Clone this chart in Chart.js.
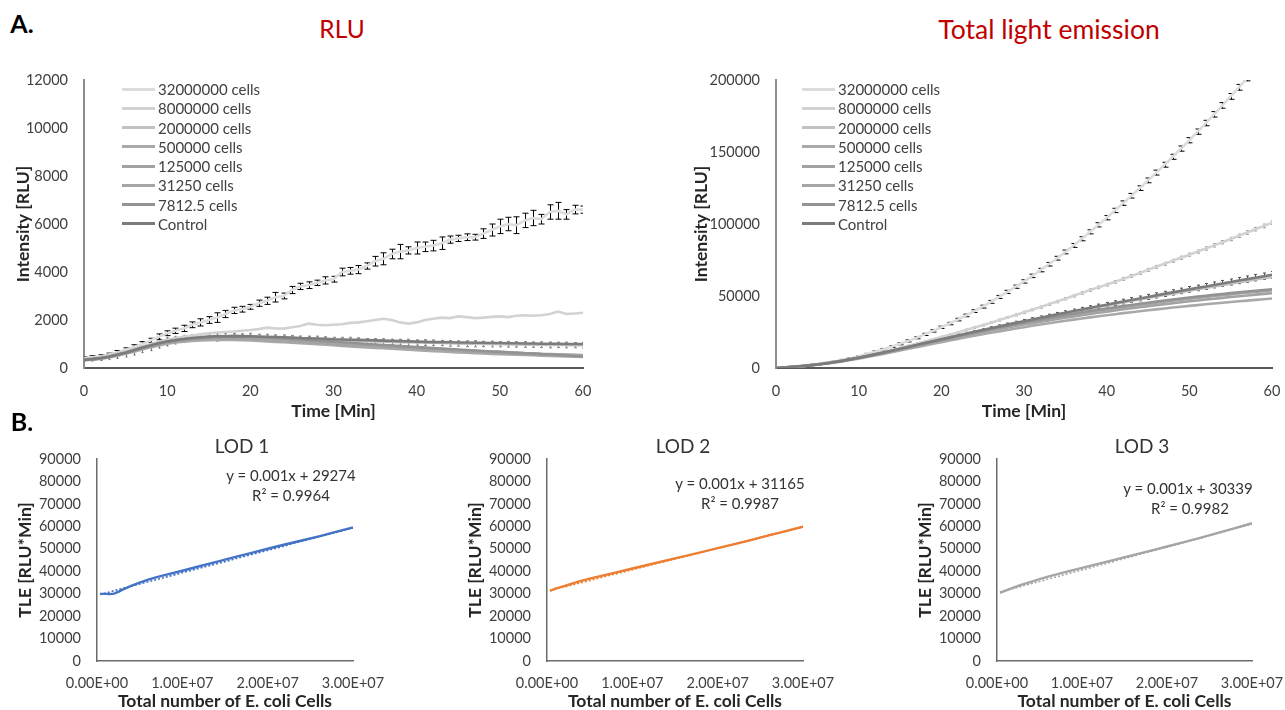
<!DOCTYPE html>
<html><head><meta charset="utf-8">
<script src="https://cdn.jsdelivr.net/npm/chart.js@4.4.1/dist/chart.umd.min.js"></script>
<style>
html,body{margin:0;padding:0;background:#fff;}
#root{position:relative;width:1285px;height:710px;overflow:hidden;font-family:Lato,'DejaVu Sans',sans-serif;}
.box{position:absolute;}
.txt{position:absolute;transform:translate(-50%,-50%);white-space:nowrap;line-height:1;}
.lrow{position:absolute;height:18px;display:flex;align-items:center;white-space:nowrap;font-size:15px;color:#404040;font-family:Lato,sans-serif;}
.lline{display:inline-block;width:33px;height:3px;margin-right:3px;}
</style></head>
<body><div id="root">
<canvas id="c1" class="box" width="620" height="362" style="left:0;top:60px"></canvas>
<canvas id="c2" class="box" width="605" height="362" style="left:680px;top:60px"></canvas>
<canvas id="c3" class="box" width="430" height="272" style="left:0;top:440px"></canvas>
<canvas id="c4" class="box" width="430" height="272" style="left:430px;top:440px"></canvas>
<canvas id="c5" class="box" width="425" height="272" style="left:860px;top:440px"></canvas>
<div id="legend1"></div><div id="legend2"></div>
<div class="txt" style="left:22px;top:23px;font-size:25px;font-weight:bold;color:#000">A.</div>
<div class="txt" style="left:22px;top:421px;font-size:25px;font-weight:bold;color:#000">B.</div>
<div class="txt" style="left:342px;top:29px;font-size:24.5px;color:#c00000">RLU</div>
<div class="txt" style="left:1049px;top:29px;font-size:26.5px;color:#c00000">Total light emission</div>
<div class="txt" style="left:242px;top:445px;font-size:19px;color:#333">LOD 1</div>
<div class="txt" style="left:683px;top:445px;font-size:19px;color:#333">LOD 2</div>
<div class="txt" style="left:1142px;top:445px;font-size:19px;color:#333">LOD 3</div>
<div class="txt" style="left:291px;top:475px;font-size:15px;color:#333">y = 0.001x + 29274</div>
<div class="txt" style="left:291px;top:495px;font-size:15px;color:#333">R² = 0.9964</div>
<div class="txt" style="left:740px;top:483px;font-size:15px;color:#333">y = 0.001x + 31165</div>
<div class="txt" style="left:740px;top:503px;font-size:15px;color:#333">R² = 0.9987</div>
<div class="txt" style="left:1188px;top:488px;font-size:15px;color:#333">y = 0.001x + 30339</div>
<div class="txt" style="left:1190px;top:508px;font-size:15px;color:#333">R² = 0.9982</div>
</div>
<script>
// ---------- DATA ----------
const seriesLabels = ['32000000 cells','8000000 cells','2000000 cells','500000 cells','125000 cells','31250 cells','7812.5 cells','Control'];
const minutes = [0,1,2,3,4,5,6,7,8,9,10,11,12,13,14,15,16,17,18,19,20,21,22,23,24,25,26,27,28,29,30,31,32,33,34,35,36,37,38,39,40,41,42,43,44,45,46,47,48,49,50,51,52,53,54,55,56,57,58,59,60];

const rlu32M = [400,450,480,560,650,760,880,1000,1150,1300,1450, 1550,1650,1800,1900,2000,2100,2250,2400,2450,2550, 2700,2800,2950,3000,3250,3400,3450,3550,3650,3700, 4000,4050,4100,4250,4450,4550,4750,4850,4900,5000, 5050,5100,5200,5350,5400,5450,5450,5600,5750,5900, 6000,5950,6150,6250,6200,6500,6550,6400,6600,6600];
const rlu8M = [380,420,470,540,620,700,800,900,1000,1100,1180, 1250,1300,1350,1400,1450,1480,1500,1520,1550,1580, 1620,1680,1650,1640,1700,1750,1850,1800,1780,1800, 1820,1880,1900,1950,2000,2050,2000,1900,1850,1900, 2000,2050,2100,2080,2150,2120,2080,2100,2130,2150, 2120,2180,2200,2180,2200,2250,2350,2250,2270,2300];
const rlu2M = [360,390,430,490,570,660,760,860,960,1050,1120, 1180,1220,1250,1280,1300,1240,1320,1310,1300,1320, 1290,1280,1260,1250,1240,1220,1210,1200,1180,1170, 1160,1150,1140,1120,1110,1100,1090,1080,1070,1060, 1060,1050,1040,1030,1020,1010,1010,1000,1000,990, 990,980,980,970,970,960,960,960,950,950];
const rlu500k = [320,350,380,440,510,590,680,770,860,940,1010, 1060,1100,1130,1150,1160,1170,1180,1170,1160,1150, 1130,1110,1090,1070,1050,1030,1010,990,970,950, 920,900,880,860,840,820,800,780,760,740, 720,700,690,670,650,640,620,610,590,580, 560,550,540,530,510,500,490,480,470,460];
const rlu125k = [330,360,400,460,540,630,730,830,920,1000,1070, 1120,1160,1190,1210,1230,1250,1240,1250,1230,1220, 1200,1190,1170,1150,1130,1100,1080,1060,1040,1010, 990,970,950,930,910,890,870,850,830,810, 790,780,760,740,720,700,690,670,650,640, 620,610,590,580,570,560,550,540,530,520];
const rlu31250 = [350,380,420,480,560,650,750,850,940,1020,1090, 1150,1190,1220,1250,1270,1280,1290,1280,1270,1260, 1250,1230,1210,1190,1170,1150,1120,1100,1080,1060, 1040,1010,990,970,950,930,910,890,870,850, 830,810,790,770,750,740,720,700,690,670, 650,640,620,610,590,580,570,560,550,540];
const rlu7812 = [340,370,410,470,550,640,740,840,930,1020,1100, 1160,1200,1230,1250,1270,1290,1300,1290,1300,1290, 1280,1270,1250,1230,1210,1190,1170,1140,1120,1100, 1070,1050,1030,1000,980,960,940,910,890,870, 850,830,810,790,770,750,730,710,690,670, 650,630,610,600,580,560,540,520,500,480];
const rluControl = [340,370,410,470,550,640,740,840,940,1030,1100, 1160,1210,1250,1280,1310,1330,1320,1340,1330,1320, 1310,1300,1290,1280,1270,1250,1240,1230,1220,1200, 1190,1180,1170,1160,1150,1140,1130,1120,1110,1100, 1090,1080,1080,1070,1060,1060,1050,1050,1040,1040, 1030,1030,1020,1020,1010,1010,1010,1000,1000,1000];

const errRlu32M = [60,60,70,60,80,80,90,100,90,120, 100,110,130,120,150,140,200,150,130,120, 100,130,150,200,120,150,130,140,110,150, 120,160,140,170,130,200,250,200,300,150, 250,200,220,260,150,130,140,120,200,250, 300,280,350,300,320,200,300,350,200,180, 150];
const errRlu2M = [20,30,40,50,60,70,80,80,90,100, 100,110,110,120,120,130,120,130,130,120, 130,120,130,120,130,120,110,120,130,120, 110,120,130,120,110,120,120,110,120,130, 110,120,120,110,120,110,120,130,110,120, 110,120,110,120,110,120,120,110,120,110, 120];
const errRluControl = [50,80,100,120,150,180,200,200,220,200, 180,160,150,140,130,120,110,100,100,90, 90,80,80,80,80,70,70,70,70,70, 60,60,60,60,60,60,60,60,60,60, 60,60,60,60,60,60,60,60,60,60, 60,60,60,60,60,60,60,60,60,60, 60];

const tle32M = [0,425,890,1410,2015,2720,3540,4480,5555,6780,8155, 9655,11255,12980,14830,16780,18830,21005,23330,25755,28255, 30880,33630,36505,39480,42605,45930,49355,52855,56455,60130, 63980,68005,72080,76255,80605,85105,89755,94555,99430,104380, 109405,114480,119630,124905,130280,135705,141155,146680,152355,158180, 164130,170105,176155,182355,188580,194930,201455,207930,214430,221030];
const tle8M = [0,400,845,1350,1930,2590,3340,4190,5140,6190,7330, 8545,9820,11145,12520,13945,15410,16900,18410,19945,21510, 23110,24760,26425,28070,29740,31465,33265,35090,36880,38670, 40480,42330,44220,46145,48120,50145,52170,54120,55995,57870, 59820,61845,63920,66010,68125,70260,72360,74450,76565,78705, 80840,82990,85180,87370,89560,91785,94085,96385,98645,100930];
const tle2M = [0,390,820,1310,1880,2540,3300,4160,5120,6170,7290, 8470,9690,10940,12220,13520,14810,16130,17440,18740,20060, 21350,22630,23890,25140,26380,27600,28810,30010,31190,32360, 33520,34670,35810,36930,38040,39140,40230,41310,42380,43440, 44500,45550,46590,47620,48640,49650,50660,51660,52660,53650, 54640,55620,56600,57570,58540,59500,60460,61420,62370,63320];
const tle500k = [0,350,730,1170,1680,2270,2950,3720,4580,5520,6530, 7590,8690,9820,10970,12130,13300,14480,15650,16810,17960, 19090,20200,21290,22360,23410,24440,25450,26440,27410,28360, 29280,30180,31060,31920,32760,33580,34380,35160,35920,36660, 37380,38080,38770,39440,40090,40730,41350,41960,42550,43130, 43690,44240,44780,45310,45820,46320,46810,47290,47760,48220];
const tle125k = [0,360,760,1220,1760,2390,3120,3950,4870,5870,6940, 8060,9220,10410,11620,12850,14100,15340,16590,17820,19040, 20240,21430,22600,23750,24880,25980,27060,28120,29160,30170, 31160,32130,33080,34010,34920,35810,36680,37530,38360,39170, 39960,40740,41500,42240,42960,43660,44350,45020,45670,46310, 46930,47540,48130,48710,49280,49840,50390,50930,51460,51980];
const tle31250 = [0,380,800,1280,1840,2490,3240,4090,5030,6050,7140, 8290,9480,10700,11950,13220,14500,15790,17070,18340,19600, 20850,22080,23290,24480,25650,26800,27920,29020,30100,31160, 32200,33210,34200,35170,36120,37050,37960,38850,39720,40570, 41400,42210,43000,43770,44520,45260,45980,46680,47370,48040, 48690,49330,49950,50560,51150,51730,52300,52860,53410,53950];
const tle7812 = [0,370,780,1250,1800,2440,3180,4020,4950,5970,7070, 8230,9430,10660,11910,13180,14470,15770,17060,18360,19650, 20930,22200,23450,24680,25890,27080,28250,29390,30510,31610, 32680,33730,34760,35760,36740,37700,38640,39550,40440,41310, 42160,42990,43800,44590,45360,46110,46840,47550,48240,48910, 49560,50190,50800,51400,51980,52540,53080,53600,54100,54580];
const tleControl = [0,370,780,1250,1800,2440,3180,4020,4960,5990,7090, 8250,9460,10710,11990,13300,14630,15950,17290,18620,19940, 21250,22550,23840,25120,26390,27640,28880,30110,31330,32530, 33720,34900,36070,37230,38380,39520,40650,41770,42880,43980, 45070,46150,47230,48300,49360,50420,51470,52520,53560,54600, 55630,56660,57680,58700,59710,60720,61730,62730,63730,64730];

const errTle32M = [0,150,200,250,250,300,350,350,400,450, 500,500,550,600,600,650,700,700,750,800, 800,850,900,900,950,1000,1000,1050,1100,1100, 1150,1200,1200,1250,1300,1300,1350,1400,1400,1450, 1500,1500,1550,1600,1600,1650,1700,1700,1750,1800, 1800,1850,1900,1900,1950,2000,2000,2050,2100,2100, 2150];
const errTle8M = [0,100,100,150,150,200,200,250,250,300, 300,300,350,350,400,400,400,450,450,500, 500,500,550,550,600,600,600,650,650,700, 700,700,750,750,800,800,800,850,850,900, 900,900,950,950,1000,1000,1000,1050,1050,1100, 1100,1100,1150,1150,1200,1200,1200,1250,1250,1300, 1300];
const errTleControl = [0,100,150,150,200,250,300,300,350,400, 450,450,500,550,600,600,650,700,750,750, 800,850,900,900,950,1000,1050,1050,1100,1150, 1200,1200,1250,1300,1350,1350,1400,1450,1500,1500, 1550,1600,1650,1650,1700,1750,1800,1800,1850,1900, 1950,1950,2000,2050,2100,2100,2150,2200,2250,2250, 2300];

const rluYTicks = [0,2000,4000,6000,8000,10000,12000];
const tleYTicks = [0,50000,100000,150000,200000];
const timeTicks = [0,10,20,30,40,50,60];
const lodYTicks = [0,10000,20000,30000,40000,50000,60000,70000,80000,90000];
const lodXTicks = [0,10000000,20000000,30000000];
const lodXTickLabels = ['0.00E+00','1.00E+07','2.00E+07','3.00E+07'];

const lod1Cells = [350000,1000000,1500000,2000000,2500000,3000000,4000000,5000000,6000000,7000000,8500000,10000000,12000000,14000000,16000000,18000000,20000000,22000000,24000000,26000000,28000000,30000000];
const lod1TLE = [29900,29900,29800,30000,30800,31800,33500,34900,36300,37400,38800,40200,42200,44200,46200,48100,50000,51900,53700,55500,57500,59500];
const lod1TrendX = [350000,30000000];
const lod1TrendY = [29650,59300];
const lod2Cells = [350000,1000000,2000000,3000000,4000000,5000000,6000000,8000000,10000000,12000000,14000000,16000000,18000000,20000000,22000000,24000000,26000000,28000000,30000000];
const lod2TLE = [31200,32200,33400,34600,35700,36700,37600,39400,41200,43000,44800,46600,48400,50300,52100,54000,56000,57900,59800];
const lod2TrendX = [350000,30000000];
const lod2TrendY = [31400,59900];
const lod3Cells = [350000,1000000,2000000,3000000,4000000,5000000,6000000,8000000,10000000,12000000,14000000,16000000,18000000,20000000,22000000,24000000,26000000,28000000,30000000];
const lod3TLE = [30400,31400,32800,34100,35300,36500,37600,39600,41500,43400,45300,47200,49100,51000,53000,55000,57100,59200,61400];
const lod3TrendX = [350000,30000000];
const lod3TrendY = [30700,61000];

// ---------- STYLE ----------
const FONT = 'Lato';
Chart.defaults.font.family = FONT;
const seriesColors = ['#dcdcdc','#d2d2d2','#c2c2c2','#a9a9a9','#a2a2a2','#a6a6a6','#939393','#7c7c7c'];
const TICK = '#404040', TITLE = '#262626';
const TICK_SIZE = 14.5, TITLE_SIZE = 17.5;

const errorBarPlugin = {
  id: 'errbars',
  beforeDatasetsDraw(chart) {
    const {ctx, chartArea, scales} = chart;
    const x = scales.x, y = scales.y;
    ctx.save();
    ctx.beginPath();
    ctx.rect(chartArea.left, chartArea.top, chartArea.right - chartArea.left, chartArea.bottom - chartArea.top);
    ctx.clip();
    chart.data.datasets.slice().reverse().forEach(ds => {
      if (!ds.errors) return;
      ctx.strokeStyle = ds.errColor;
      ctx.lineWidth = ds.errWidth || 1;
      ds.data.forEach((p, k) => {
        const e = ds.errors[k];
        if (!e) return;
        const px = Math.round(x.getPixelForValue(p.x)) + 0.5;
        const t = y.getPixelForValue(p.y + e), b = y.getPixelForValue(p.y - e);
        const c = ds.errCap;
        ctx.beginPath();
        ctx.moveTo(px, t); ctx.lineTo(px, b);
        ctx.moveTo(px - c, t); ctx.lineTo(px + c, t);
        ctx.moveTo(px - c, b); ctx.lineTo(px + c, b);
        ctx.stroke();
      });
    });
    ctx.restore();
  }
};

function pts(xs, ys) { return xs.map((v, i) => ({x: v, y: ys[i]})); }

function axisOpts(o) {
  return {
    type: 'linear', min: o.min, max: o.max,
    afterBuildTicks: s => { s.ticks = o.ticks.map(v => ({value: v})); },
    ticks: {autoSkip: false, maxRotation: 0, padding: o.tickPad, color: TICK, font: {family: FONT, size: TICK_SIZE},
            callback: o.cb || (v => String(v))},
    grid: {display: false, drawTicks: false},
    border: {display: true, color: o.borderColor, width: o.borderWidth || 2},
    title: {display: true, text: o.title, color: TITLE, font: {family: FONT, size: TITLE_SIZE, weight: 'bold'}, padding: o.titlePad},
    afterFit: s => { o.fit(s); s.paddingLeft = 0; s.paddingRight = 0; s.paddingTop = 0; s.paddingBottom = 0; }
  };
}

function timeChart(id, series, errs, yMax, yTicks, yWidth, yTitlePad, padRight) {
  const datasets = series.map((s, i) => ({
    label: seriesLabels[i],
    data: pts(minutes, s),
    borderColor: seriesColors[i], backgroundColor: seriesColors[i],
    borderWidth: 2.6, pointRadius: 0, tension: 0, fill: false,
    order: 8 - i,
    errors: errs[i] ? errs[i].v : null, errColor: errs[i] ? errs[i].c : null, errCap: errs[i] ? errs[i].cap : 0
  }));
  return new Chart(document.getElementById(id), {
    type: 'line',
    data: {datasets},
    options: {
      responsive: false, animation: false, events: [],
      layout: {padding: {left: 0, top: 20, right: padRight, bottom: 0}},
      plugins: {legend: {display: false}, tooltip: {enabled: false}},
      scales: {
        x: axisOpts({min: 0, max: 60, ticks: timeTicks, tickPad: 14.3, borderColor: '#595959', title: 'Time [Min]',
                     titlePad: {top: 0, bottom: 0}, fit: s => { s.height = 54; }}),
        y: axisOpts({min: 0, max: yMax, ticks: yTicks, tickPad: 16, borderColor: '#8c8c8c', title: 'Intensity [RLU]',
                     titlePad: {top: yTitlePad, bottom: 0}, fit: s => { s.width = yWidth; }})
      }
    },
    plugins: [errorBarPlugin]
  });
}

const rluSeries = [rlu32M, rlu8M, rlu2M, rlu500k, rlu125k, rlu31250, rlu7812, rluControl];
const tleSeries = [tle32M, tle8M, tle2M, tle500k, tle125k, tle31250, tle7812, tleControl];

timeChart('c1', rluSeries,
  [{v: errRlu32M, c: '#000000', cap: 3}, null, {v: errRlu2M, c: '#8a8a8a', cap: 1.5}, null, null, null, null, {v: errRluControl, c: '#6a6a6a', cap: 1}],
  12000, rluYTicks, 84, 12.5, 37);
timeChart('c2', tleSeries,
  [{v: errTle32M, c: '#000000', cap: 3}, {v: errTle8M, c: '#9a9a9a', cap: 1.5}, null, null, null, null, null, {v: errTleControl, c: '#505050', cap: 1.5}],
  200000, tleYTicks, 96, 10.5, 13);

function lodChart(id, cells, tle, tx, ty, color, yWidth, yTitlePad, padRight) {
  return new Chart(document.getElementById(id), {
    type: 'line',
    data: {datasets: [
      {label: 'TLE', data: pts(cells, tle), borderColor: color, borderWidth: 2.4, pointRadius: 0, tension: 0, fill: false, order: 0},
      {label: 'Linear', data: pts(tx, ty), borderColor: color, borderWidth: 1.6, borderDash: [2, 2], pointRadius: 0, fill: false, order: 1}
    ]},
    options: {
      responsive: false, animation: false, events: [],
      layout: {padding: {left: 0, top: 19, right: padRight, bottom: 0}},
      plugins: {legend: {display: false}, tooltip: {enabled: false}},
      scales: {
        x: axisOpts({min: 0, max: 30000000, ticks: lodXTicks, tickPad: 13.3, borderColor: '#6b6b6b', borderWidth: 1.5,
                     title: 'Total number of E. coli Cells', titlePad: {top: 0, bottom: 0},
                     cb: (v, i) => lodXTickLabels[i], fit: s => { s.height = 51; }}),
        y: axisOpts({min: 0, max: 90000, ticks: lodYTicks, tickPad: 16, borderColor: '#6b6b6b', borderWidth: 1.5,
                     title: 'TLE [RLU*Min]', titlePad: {top: yTitlePad, bottom: 0}, fit: s => { s.width = yWidth; }})
      }
    }
  });
}
lodChart('c3', lod1Cells, lod1TLE, lod1TrendX, lod1TrendY, '#4472c4', 97, 14.5, 77);
lodChart('c4', lod2Cells, lod2TLE, lod2TrendX, lod2TrendY, '#ed7d31', 117, 34.5, 57);
lodChart('c5', lod3Cells, lod3TLE, lod3TrendX, lod3TrendY, '#a5a5a5', 137, 54.5, 33);

// ---------- HTML legends ----------
function buildLegend(elId, lineLeft) {
  const el = document.getElementById(elId);
  seriesLabels.forEach((lab, i) => {
    const row = document.createElement('div');
    row.className = 'lrow';
    row.style.left = lineLeft + 'px';
    row.style.top = (89 + 19.25 * i - 9) + 'px';
    const ln = document.createElement('span');
    ln.className = 'lline';
    ln.style.background = seriesColors[i];
    row.appendChild(ln);
    row.appendChild(document.createTextNode(lab));
    el.appendChild(row);
  });
}
buildLegend('legend1', 122);
buildLegend('legend2', 802);
</script>
</body></html>
